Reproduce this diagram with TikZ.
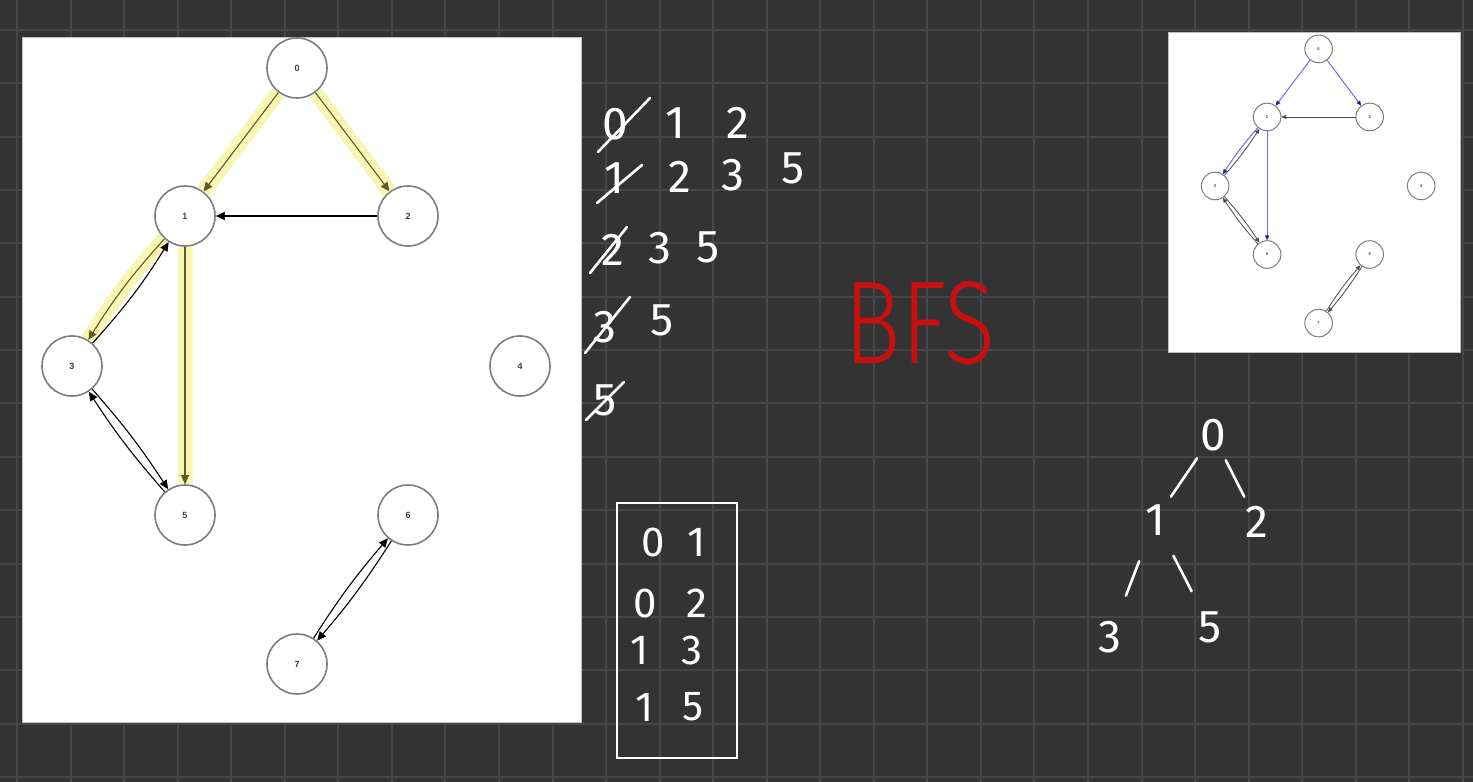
\documentclass[tikz,border=0pt]{standalone}
\usepackage{fontspec}
\setsansfont{Liberation Sans}
\newfontfamily\handfont{Fira Sans}
\newfontfamily\bfsfont{Fira Sans Light}
\usetikzlibrary{arrows.meta,positioning,calc}

\definecolor{board}{RGB}{51,51,51}
\definecolor{gridcol}{RGB}{70,70,70}
\definecolor{hilite}{RGB}{248,246,180}
\definecolor{olivearrow}{RGB}{95,92,35}
\definecolor{ringgray}{RGB}{125,125,125}
\definecolor{bfsred}{RGB}{200,16,16}
\definecolor{insetblue}{RGB}{110,110,230}
\definecolor{tipblue}{RGB}{30,30,150}

\tikzset{
  gridline/.style={draw=gridcol, line width=2pt},
  vertex/.style={circle, draw=ringgray, line width=1.6pt, fill=white,
    minimum size=60pt, inner sep=0pt, text=black!75,
    font=\sffamily\bfseries\fontsize{9}{9}\selectfont},
  edge/.style={line width=1.1pt, -{Triangle[length=9pt,width=8pt]}},
  visited/.style={line width=1.1pt, draw=olivearrow,
    -{Triangle[length=9pt,width=8pt,color=olivearrow]}},
  glow/.style={line width=15pt, draw=hilite},
  sedge/.style={line width=0.8pt, draw=black!70, -{Triangle[length=5pt,width=4pt]}},
  sblue/.style={line width=1pt, draw=insetblue, -{Triangle[length=5pt,width=4pt,color=tipblue]}},
  hand/.style={text=white, inner sep=0pt, font=\handfont\fontsize{46}{46}\selectfont},
  handsmall/.style={hand, font=\handfont\fontsize{42}{42}\selectfont},
  treenode/.style={hand, circle, minimum size=56pt},
  treeline/.style={draw=white, line width=2.6pt, line cap=round},
  strike/.style={draw=white, line width=2.6pt, line cap=round},
  bfs/.style={text=bfsred, inner sep=0pt, xscale=0.8, transform shape,
    font=\bfsfont\fontsize{118}{118}\selectfont},
}

\begin{document}
\begin{tikzpicture}[x=1pt,y=-1pt]
  % board with grid
  \fill[board] (0,0) rectangle (1473,782);
  \useasboundingbox (0,0) rectangle (1473,782);
  \foreach \gx in {0,...,27}
    \draw[gridline] ({17+53.55*\gx},0) -- ({17+53.55*\gx},782);
  \foreach \gy in {0,...,14}
    \draw[gridline] (0,{30+53.35*\gy}) -- (1473,{30+53.35*\gy});

  % main graph
  \fill[white, draw=gray!50] (22,37) rectangle (581,722);
  \foreach \n/\px/\py in {0/297/68, 1/185/216, 2/408/216, 3/72/366,
                          4/520/366, 5/185/515, 6/408/515, 7/297/664}
    \node[vertex] (v\n) at (\px,\py) {\n};

  \draw[glow] (v0) -- (v1);
  \draw[glow] (v0) -- (v2);
  \draw[glow] (v1) to[bend right=5] (v3);
  \draw[glow] (v1) -- (v5);

  \draw[visited] (v0) -- (v1);
  \draw[visited] (v0) -- (v2);
  \draw[visited] (v1) to[bend right=5] (v3);
  \draw[visited] (v1) -- (v5);
  \draw[edge] (v2) -- (v1);
  \draw[edge] (v3) to[bend right=5] (v1);
  \draw[edge] (v3) to[bend left=4] (v5);
  \draw[edge] (v5) to[bend left=4] (v3);
  \draw[edge] (v6) to[bend left=4] (v7);
  \draw[edge] (v7) to[bend left=4] (v6);

  % small copy, top right
  \fill[white, draw=gray!50] (1168,32) rectangle (1460,352);
  \begin{scope}[shift={(1182,17.6)}, scale=0.46, every node/.append style={transform shape}]
    \foreach \n/\px/\py in {0/297/68, 1/185/216, 2/408/216, 3/72/366,
                            4/520/366, 5/185/515, 6/408/515, 7/297/664}
      \node[vertex, line width=1pt] (s\n) at (\px,\py) {\n};
  \end{scope}
  \draw[sblue] (s0) -- (s1);
  \draw[sblue] (s0) -- (s2);
  \draw[sblue] (s1) to[bend right=4] (s3);
  \draw[sblue] (s1) -- (s5);
  \draw[sedge] (s2) -- (s1);
  \draw[sedge] (s3) to[bend right=4] (s1);
  \draw[sedge] (s3) to[bend left=4] (s5);
  \draw[sedge] (s5) to[bend left=4] (s3);
  \draw[sedge] (s6) to[bend left=4] (s7);
  \draw[sedge] (s7) to[bend left=4] (s6);

  % queue
  \foreach \d/\px/\py [count=\i] in {0/615/124, 1/675/123, 2/738/123,
      1/614/178, 2/680/177, 3/733/175, 5/793/168,
      2/613/250, 3/660/248, 5/708/247,
      3/605/327, 5/662/320,
      5/605/400}
    \node[hand] (q\i) at (\px,\py) {\d};
  \draw[strike] (598,152) -- (650,98);
  \draw[strike] (597,203) -- (642,165);
  \draw[strike] (590,273) -- (627,227);
  \draw[strike] (585,353) -- (630,297);
  \draw[strike] (586,420) -- (624,382);

  \node[bfs] (bfs) at (920,323) {BFS};

  % visited edges
  \draw[white, line width=2pt] (617,503) rectangle (737,758);
  \foreach \d/\px/\py [count=\i] in {0/653/542, 1/697/542, 0/645/603, 2/697/603,
      1/640/650, 3/692/650, 1/645/707, 5/693/707}
    \node[handsmall] (p\i) at (\px,\py) {\d};

  % bfs tree
  \node[treenode] (t0) at (1213,435) {0};
  \node[treenode] (t1) at (1155,520) {1};
  \node[treenode] (t2) at (1257,522) {2};
  \node[treenode] (t3) at (1110,637) {3};
  \node[treenode] (t5) at (1210,627) {5};
  \draw[treeline] (t0) -- (t1);
  \draw[treeline] (t0) -- (t2);
  \draw[treeline, shorten <=16pt, shorten >=16pt] (t1) -- (t3);
  \draw[treeline, shorten <=12pt, shorten >=12pt] (t1) -- (t5);
\end{tikzpicture}
\end{document}
